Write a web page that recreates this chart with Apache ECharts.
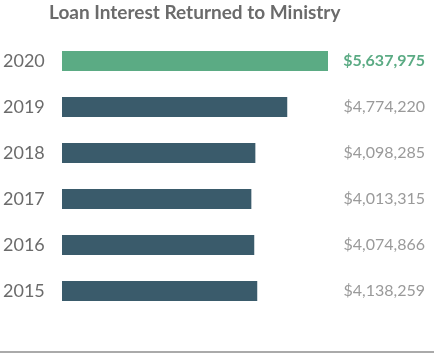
<!DOCTYPE html>
<html>
<head>
<meta charset="utf-8">
<script src="https://cdn.jsdelivr.net/npm/echarts@6/dist/echarts.min.js"></script>
<style>
  html, body { margin: 0; padding: 0; background: #fff; }
  #chart { width: 434px; height: 353px; }
</style>
</head>
<body>
<div id="chart"></div>
<script>
// data
var years = ['2020', '2019', '2018', '2017', '2016', '2015'];
var interest = [5637975, 4774220, 4098285, 4013315, 4074866, 4138259];

function money(v) {
    return '$' + v.toString().replace(/\B(?=(\d{3})+(?!\d))/g, ',');
}

var chart = echarts.init(document.getElementById('chart'));
chart.setOption({
    animation: false,
    textStyle: { fontFamily: 'Lato' },
    title: {
        text: 'Loan Interest Returned to Ministry',
        left: 49,
        top: 3,
        padding: 0,
        textStyle: { color: '#6b6b6b', fontSize: 19, fontWeight: 'bold', fontFamily: 'Lato' }
    },
    grid: { left: 59, right: 106, top: 38, bottom: 39 },
    xAxis: {
        type: 'value',
        min: 0,
        max: interest[0],
        show: false
    },
    yAxis: [
        {
            type: 'category',
            data: years,
            inverse: true,
            axisLine: { show: false },
            axisTick: { show: false },
            axisLabel: { align: 'left', margin: 59, color: '#6b6b6b', fontSize: 18 }
        },
        {
            type: 'category',
            data: interest.map(money),
            inverse: true,
            position: 'right',
            axisLine: { show: false },
            axisTick: { show: false },
            axisLabel: {
                align: 'right',
                margin: 97,
                formatter: function (v, i) { return i === 0 ? '{hi|' + v + '}' : v; },
                color: '#9a9a9a',
                fontSize: 16,
                rich: { hi: { color: '#5bab84', fontWeight: 'bold', fontSize: 16 } }
            }
        }
    ],
    series: [{
        type: 'bar',
        data: interest.map(function (v, i) {
            return { value: v, itemStyle: { color: i === 0 ? '#5bab84' : '#3a5b6b' } };
        }),
        barWidth: 20
    }],
    graphic: [{
        type: 'line',
        shape: { x1: 0, y1: 352, x2: 434, y2: 352 },
        style: { stroke: '#aaaaaa', lineWidth: 2 }
    }]
});
</script>
</body>
</html>
